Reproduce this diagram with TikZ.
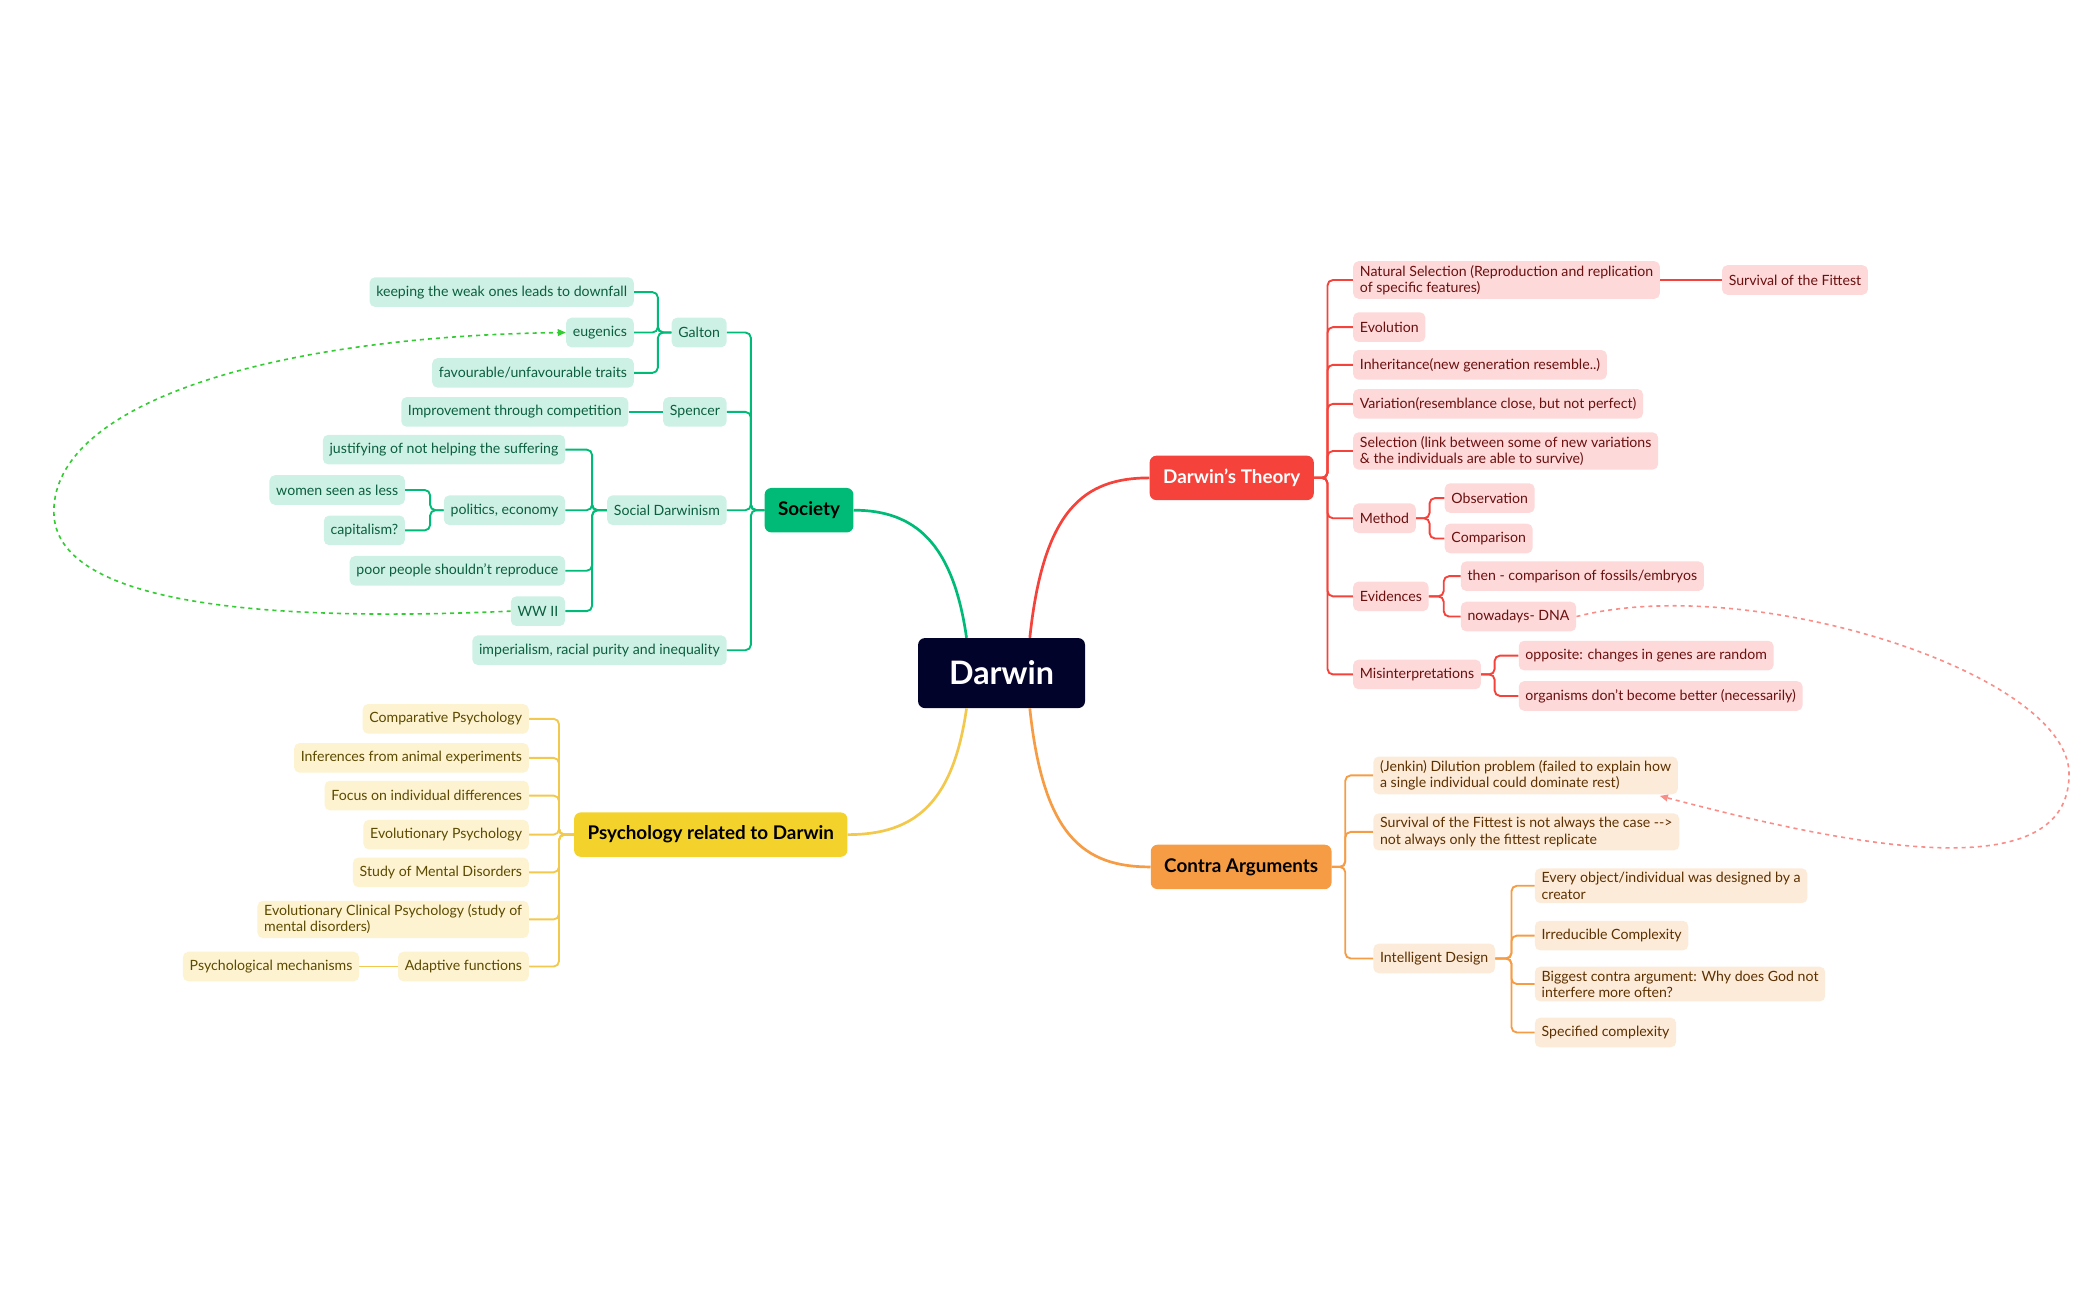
\documentclass[tikz,border=0pt]{standalone}
\usepackage{fontspec}
\setmainfont{Lato}
\usetikzlibrary{calc,arrows.meta}
\definecolor{navy}{HTML}{02032A}
\definecolor{sG}{HTML}{00BB77}\definecolor{sGf}{HTML}{CDF1E4}\definecolor{sGt}{HTML}{0B5E3F}
\definecolor{sR}{HTML}{F5433B}\definecolor{sRf}{HTML}{FDD9D9}\definecolor{sRt}{HTML}{6B0F0F}
\definecolor{sO}{HTML}{F59C45}\definecolor{sOf}{HTML}{FDEBD9}\definecolor{sOt}{HTML}{5C3000}
\definecolor{sY}{HTML}{F2D22B}\definecolor{sYf}{HTML}{FDF3D0}\definecolor{sYt}{HTML}{5C4A00}
\definecolor{sYl}{HTML}{F2C94C}
\tikzset{
 box/.style={rounded corners=4pt,minimum height=22pt,inner xsep=5pt,inner ysep=3pt,font=\fontsize{10.5}{12}\selectfont,align=left},
 gn/.style={box,fill=sGf,text=sGt},
 rn/.style={box,fill=sRf,text=sRt},
 on/.style={box,fill=sOf,text=sOt},
 yn/.style={box,fill=sYf,text=sYt},
 main/.style={rounded corners=5pt,minimum height=33pt,inner xsep=10pt,font=\fontsize{14}{16}\selectfont\bfseries},
 gl/.style={draw=sG,line width=1.4pt,rounded corners=4pt},
 rl/.style={draw=sR,line width=1.4pt,rounded corners=4pt},
 ol/.style={draw=sO,line width=1.4pt,rounded corners=4pt},
 yl/.style={draw=sYl,line width=1.4pt,rounded corners=4pt},
}
\begin{document}
\begin{tikzpicture}[x=1pt,y=-1pt]
\useasboundingbox (0,0) rectangle (1560,966);
% central
\node[fill=navy,text=white,rounded corners=5pt,minimum width=124pt,minimum height=52pt,font=\fontsize{24}{28}\selectfont\bfseries] (D) at (744,500) {Darwin};
\node[main,fill=sG,text=black] (S) at (601,379) {Society};
\node[main,fill=sR,text=white] (T) at (915,355) {Darwin's Theory};
\node[main,fill=sO,text=black] (C) at (922,644) {Contra Arguments};
\node[main,fill=sY,text=black] (P) at (528,620) {Psychology related to Darwin};
\draw[gl,line width=2pt] ($(D.north)+(-26,0)$) .. controls ($(D.north)+(-36,-70)$) and (680,379) .. (S.east);
\draw[rl,line width=2pt] ($(D.north)+(21,0)$) .. controls ($(D.north)+(31,-95)$) and (805,355) .. (T.west);
\draw[yl,line width=2pt] ($(D.south)+(-26,0)$) .. controls ($(D.south)+(-36,70)$) and (680,620) .. (P.east);
\draw[ol,line width=2pt] ($(D.south)+(21,0)$) .. controls ($(D.south)+(31,95)$) and (805,644) .. (C.west);
% Society
\node[gn,anchor=east] (ga) at (540,247) {Galton};
\node[gn,anchor=east] (sp) at (540,306) {Spencer};
\node[gn,anchor=east] (sd) at (540,379) {Social Darwinism};
\node[gn,anchor=east] (im) at (540,483) {imperialism, racial purity and inequality};
\node[gn,anchor=east] (kw) at (471,217) {keeping the weak ones leads to downfall};
\node[gn,anchor=east] (eu) at (471,247) {eugenics};
\node[gn,anchor=east] (fa) at (471,277) {favourable/unfavourable traits};
\node[gn,anchor=east] (ic) at (467,306) {Improvement through competition};
\node[gn,anchor=east] (ju) at (420,334) {justifying of not helping the suffering};
\node[gn,anchor=east] (po) at (420,379) {politics, economy};
\node[gn,anchor=east] (pp) at (420,424) {poor people shouldn't reproduce};
\node[gn,anchor=east] (ww) at (420,454) {WW II};
\node[gn,anchor=east] (wo) at (301,364) {women seen as less};
\node[gn,anchor=east] (ca) at (301,394) {capitalism?};
\foreach \c in {ga,sp,sd,im} \draw[gl] (S.west) -- ++(-10,0) |- (\c.east);
\foreach \c in {kw,eu,fa} \draw[gl] (ga.west) -- ++(-10,0) |- (\c.east);
\draw[gl] (sp.west) -- (ic.east);
\foreach \c in {ju,po,pp,ww} \draw[gl] (sd.west) -- ++(-11,0) |- (\c.east);
\foreach \c in {wo,ca} \draw[gl] (po.west) -- ++(-10,0) |- (\c.east);
\draw[draw=green!75!black!80,line width=1.2pt,dashed,-{Triangle[length=6pt,width=5pt]}] (ww.west) .. controls (200,462) and (40,450) .. (40,380) .. controls (40,300) and (200,250) .. (eu.west);
% Theory
\node[rn,anchor=west] (ns) at (1005,208) {Natural Selection (Reproduction and replication\\of specific features)};
\node[rn,anchor=west] (sf) at (1279,208) {Survival of the Fittest};
\node[rn,anchor=west] (ev) at (1005,243) {Evolution};
\node[rn,anchor=west] (in) at (1005,271) {Inheritance(new generation resemble..)};
\node[rn,anchor=west] (va) at (1005,300) {Variation(resemblance close, but not perfect)};
\node[rn,anchor=west] (se) at (1005,335) {Selection (link between some of new variations\\\& the individuals are able to survive)};
\node[rn,anchor=west] (me) at (1005,385) {Method};
\node[rn,anchor=west] (ob) at (1073,370) {Observation};
\node[rn,anchor=west] (co) at (1073,400) {Comparison};
\node[rn,anchor=west] (ed) at (1005,443) {Evidences};
\node[rn,anchor=west] (th) at (1085,428) {then - comparison of fossils/embryos};
\node[rn,anchor=west] (nw) at (1085,458) {nowadays- DNA};
\node[rn,anchor=west] (mi) at (1005,501) {Misinterpretations};
\node[rn,anchor=west] (op) at (1128,487) {opposite: changes in genes are random};
\node[rn,anchor=west] (or) at (1128,517) {organisms don't become better (necessarily)};
\foreach \c in {ns,ev,in,va,se,me,ed,mi} \draw[rl] (T.east) -- ++(10,0) |- (\c.west);
\draw[rl] (ns.east) -- (sf.west);
\foreach \c in {ob,co} \draw[rl] (me.east) -- ++(10,0) |- (\c.west);
\foreach \c in {th,nw} \draw[rl] (ed.east) -- ++(11,0) |- (\c.west);
\foreach \c in {op,or} \draw[rl] (mi.east) -- ++(10,0) |- (\c.west);
% Contra
\node[on,anchor=west] (je) at (1020,576) {(Jenkin) Dilution problem (failed to explain how\\a single individual could dominate rest)};
\node[on,anchor=west] (sv) at (1020,618) {Survival of the Fittest is not always the case -{}->\\not always only the fittest replicate};
\node[on,anchor=west] (id) at (1020,712) {Intelligent Design};
\node[on,anchor=west] (eo) at (1140,658) {Every object/individual was designed by a\\creator};
\node[on,anchor=west] (ir) at (1140,695) {Irreducible Complexity};
\node[on,anchor=west] (bc) at (1140,731) {Biggest contra argument: Why does God not\\interfere more often?};
\node[on,anchor=west] (spc) at (1140,767) {Specified complexity};
\foreach \c in {je,sv,id} \draw[ol] (C.east) -- ++(10,0) |- (\c.west);
\foreach \c in {eo,ir,bc,spc} \draw[ol] (id.east) -- ++(12,0) |- (\c.west);
\coordinate (pe) at ($(je.south west)+(213,1)$);
\draw[draw=sR!60,line width=1.2pt,dashed,-{Triangle[length=6pt,width=5pt]}] (nw.east) .. controls (1300,425) and (1537,500) .. (1537,575) .. controls (1537,660) and (1380,630) .. (pe);
% Psychology
\node[yn,anchor=east] (p1) at (393,534) {Comparative Psychology};
\node[yn,anchor=east] (p2) at (393,563) {Inferences from animal experiments};
\node[yn,anchor=east] (p3) at (393,591) {Focus on individual differences};
\node[yn,anchor=east] (p4) at (393,620) {Evolutionary Psychology};
\node[yn,anchor=east] (p5) at (393,648) {Study of Mental Disorders};
\node[yn,anchor=east] (p6) at (393,683) {Evolutionary Clinical Psychology (study of\\mental disorders)};
\node[yn,anchor=east] (p7) at (393,718) {Adaptive functions};
\node[yn,anchor=east] (p8) at (267,718) {Psychological mechanisms};
\foreach \c in {p1,p2,p3,p4,p5,p6,p7} \draw[yl] (P.west) -- ++(-11,0) |- (\c.east);
\draw[yl] (p7.west) -- (p8.east);
\end{tikzpicture}
\end{document}
